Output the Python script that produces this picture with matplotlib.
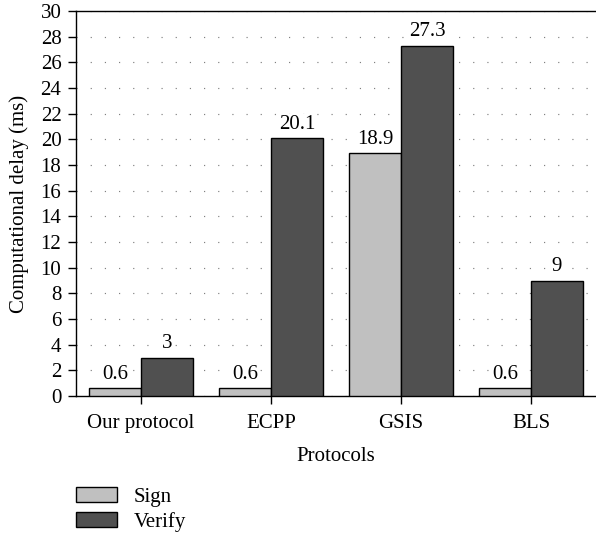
import matplotlib
matplotlib.use("Agg")
import matplotlib.pyplot as plt
import numpy as np

categories = ["Our protocol", "ECPP", "GSIS", "BLS"]
sign = [0.6, 0.6, 18.9, 0.6]
verify = [3, 20.1, 27.3, 9]
sign_labels = ["0.6", "0.6", "18.9", "0.6"]
verify_labels = ["3", "20.1", "27.3", "9"]

plt.rcParams['font.family'] = ['Liberation Serif', 'DejaVu Serif']
plt.rcParams['font.size'] = 15

fig = plt.figure(figsize=(5.96, 5.37), dpi=100)
ax = fig.add_axes([76/596, 1-396/537, 1-76/596, (396-11)/537])

x = np.arange(len(categories))
w = 0.4
b1 = ax.bar(x - w/2, sign, w, color='#c0c0c0', edgecolor='black', linewidth=1.0, label='Sign', zorder=3)
b2 = ax.bar(x + w/2, verify, w, color='#505050', edgecolor='black', linewidth=1.0, label='Verify', zorder=3)

for xi, v, t in zip(x - w/2, sign, sign_labels):
    ax.annotate(t, (xi, v), xytext=(0, 3), textcoords='offset points', ha='center', va='bottom',
                bbox=dict(facecolor='white', edgecolor='none', pad=0.3), zorder=4)
for xi, v, t in zip(x + w/2, verify, verify_labels):
    ax.annotate(t, (xi, v), xytext=(0, 3), textcoords='offset points', ha='center', va='bottom',
                bbox=dict(facecolor='white', edgecolor='none', pad=0.3), zorder=4)

ax.set_xlim(-0.5, 3.5)
ax.set_ylim(0, 30)
ax.set_yticks(np.arange(0, 31, 2))
ax.set_xticks(x)
ax.set_xticklabels(categories)
ax.yaxis.grid(True, color='#808080', linestyle=(0, (1, 11)), linewidth=0.85, zorder=0)
ax.set_axisbelow(True)
ax.spines['right'].set_visible(False)
for s in ['left', 'top', 'bottom']:
    ax.spines[s].set_linewidth(1.0)
ax.tick_params(axis='y', direction='out', length=6, width=1.0, pad=4.5)
ax.tick_params(axis='x', direction='out', length=6, width=1.0, pad=7)
ax.set_ylabel('Computational delay (ms)')
ax.yaxis.set_label_coords(-0.09, 0.5)
ax.set_xlabel('Protocols', labelpad=10)

fig.legend(handles=[b1, b2], labels=['Sign', 'Verify'], loc='upper left',
           bbox_to_anchor=(76/596, 1-487/537), frameon=False,
           handlelength=1.97, handleheight=0.75, handletextpad=0.78, labelspacing=0.25,
           borderaxespad=0, borderpad=0.0)

fig.savefig('out.png', dpi=100)
